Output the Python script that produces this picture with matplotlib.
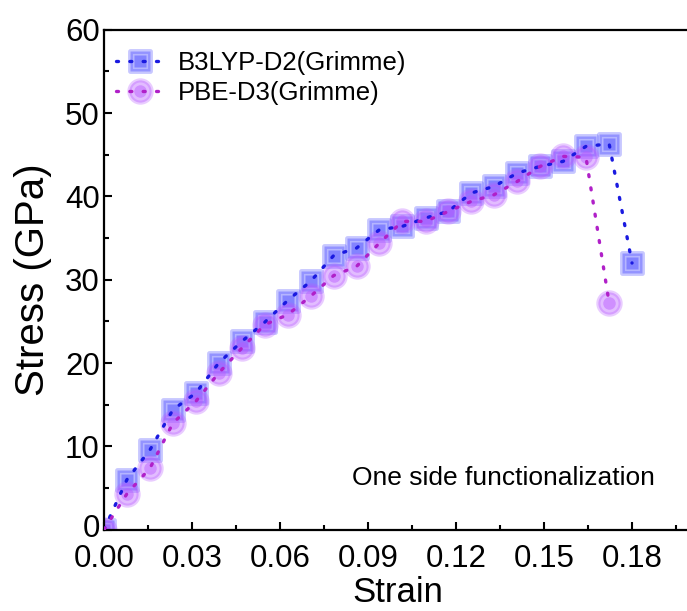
import numpy as np
import matplotlib
matplotlib.use("Agg")
import matplotlib.pyplot as plt
import matplotlib.transforms as mtransforms
from matplotlib.legend_handler import HandlerTuple
from matplotlib.markers import MarkerStyle

plt.rcParams["font.family"] = ["Liberation Sans", "DejaVu Sans"]

# Strain values (shared grid)
strain = [0.000, 0.0078, 0.0157, 0.0235, 0.0313, 0.0391, 0.0470, 0.0548,
          0.0626, 0.0704, 0.0783, 0.0861, 0.0939, 0.1017, 0.1096, 0.1174,
          0.1252, 0.1330, 0.1409, 0.1487, 0.1565, 0.1643, 0.1722, 0.1800]

# B3LYP-D2(Grimme) stress (GPa)
b3lyp = [0.0, 6.0, 9.6, 14.4, 16.4, 20.0, 22.6, 24.9, 27.5, 29.8, 32.9, 33.8,
         36.0, 36.4, 37.4, 38.2, 40.4, 41.2, 42.8, 43.6, 44.2, 46.0, 46.3, 32.0]

# PBE-D3(Grimme) stress (GPa), one point shorter
pbe = [0.0, 4.3, 7.4, 12.8, 15.4, 18.8, 21.8, 24.6, 25.8, 28.0, 30.5, 31.6,
       34.4, 37.0, 37.0, 38.2, 39.4, 40.2, 41.8, 43.6, 44.8, 44.7, 27.2]

BLUE = (0.28, 0.28, 1.0)
PURPLE = (0.72, 0.35, 1.0)
BLUE_LINE = "#1a1ae0"
PURPLE_LINE = "#b020c8"

fig = plt.figure(figsize=(6.87, 6.11), dpi=100)
ax = fig.add_axes([104 / 687, 81.3 / 611, 586.7 / 687, 500 / 611])

x_b = strain[:len(b3lyp)]
x_p = strain[:len(pbe)]
sq = MarkerStyle("s", joinstyle="round")

# outer (light) and inner (dark) markers, dotted line on top
b_out, = ax.plot(x_b, b3lyp, ls="none", marker=sq, ms=14, mfc=(*BLUE, 0.4),
                 mec=(*BLUE, 0.3), mew=3.5, zorder=2)
b_in, = ax.plot(x_b, b3lyp, ls="none", marker="s", ms=8, mfc=(*BLUE, 0.45),
                mec="none", zorder=2)
p_out, = ax.plot(x_p, pbe, ls="none", marker="o", ms=16, mfc=(*PURPLE, 0.4),
                 mec=(*PURPLE, 0.3), mew=3, zorder=2)
p_in, = ax.plot(x_p, pbe, ls="none", marker="o", ms=9, mfc=(*PURPLE, 0.45),
                mec="none", zorder=2)
b_ln, = ax.plot(x_b, b3lyp, ls=(0, (0.6, 3.4)), lw=2.4, color=BLUE_LINE,
                dash_capstyle="round", zorder=3)
p_ln, = ax.plot(x_p, pbe, ls=(0, (0.6, 3.4)), lw=2.4, color=PURPLE_LINE,
                dash_capstyle="round", zorder=3)

ax.set_xlim(0, 0.2)
ax.set_ylim(0, 60)
ax.set_xticks([0.00, 0.03, 0.06, 0.09, 0.12, 0.15, 0.18])
ax.set_xticklabels(["0.00", "0.03", "0.06", "0.09", "0.12", "0.15", "0.18"])
ax.set_xticks(np.arange(0.015, 0.2, 0.03), minor=True)
ax.set_yticks([0, 10, 20, 30, 40, 50, 60])
ax.set_yticks([5, 15, 25, 35, 45, 55], minor=True)
ax.tick_params(which="both", direction="in", top=False, right=False,
               width=1.5, labelsize=22.5)
ax.tick_params(axis="x", pad=10.5)
ax.tick_params(axis="y", pad=3)
ax.tick_params(which="major", length=6)
ax.tick_params(which="minor", length=3.5)
for s in ax.spines.values():
    s.set_linewidth(1.6)

# nudge the y "0" label up a little so it clears "0.00"
lab0 = ax.get_yticklabels()[0]
lab0.set_transform(lab0.get_transform() +
                   mtransforms.ScaledTranslation(0, 4 / 100, fig.dpi_scale_trans))

ax.set_xlabel("Strain", fontsize=25, labelpad=1)
ax.set_ylabel("Stress (GPa)", fontsize=29, labelpad=9)

ax.legend([(b_out, b_in, b_ln), (p_out, p_in, p_ln)],
          ["B3LYP-D2(Grimme)", "PBE-D3(Grimme)"],
          handler_map={tuple: HandlerTuple(ndivide=1)},
          loc="upper left", bbox_to_anchor=(0.007, 0.972), frameon=False,
          fontsize=18.5, handlelength=1.85, handletextpad=0.55,
          labelspacing=0.22, borderaxespad=0, borderpad=0.3)

ax.text(0.0845, 6.2, "One side functionalization", fontsize=19,
        va="center", ha="left")

fig.savefig("out.png", dpi=100)
